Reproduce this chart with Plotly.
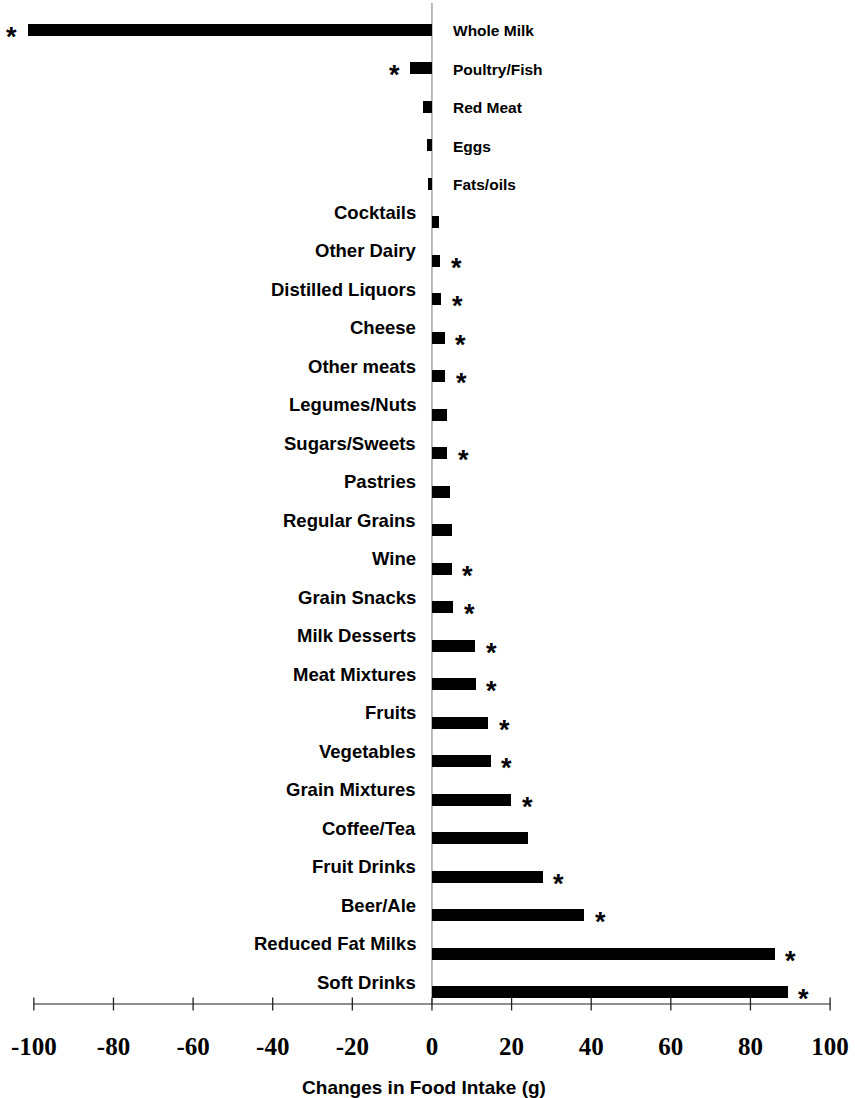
import plotly.graph_objects as go

# Food groups, listed top to bottom
categories = [
    "Whole Milk", "Poultry/Fish", "Red Meat", "Eggs", "Fats/oils",
    "Cocktails", "Other Dairy", "Distilled Liquors", "Cheese", "Other meats",
    "Legumes/Nuts", "Sugars/Sweets", "Pastries", "Regular Grains", "Wine",
    "Grain Snacks", "Milk Desserts", "Meat Mixtures", "Fruits", "Vegetables",
    "Grain Mixtures", "Coffee/Tea", "Fruit Drinks", "Beer/Ale",
    "Reduced Fat Milks", "Soft Drinks",
]

# Change in intake (g)
changes = [
    -101.5, -5.4, -2.3, -1.3, -1.1,
    1.7, 2.1, 2.3, 3.2, 3.3,
    3.8, 3.8, 4.6, 5.0, 5.0,
    5.3, 10.9, 11.0, 14.2, 14.8,
    19.9, 24.1, 27.8, 38.3,
    86.1, 89.4,
]

# Statistically significant changes are flagged with an asterisk
significant = [
    True, True, False, False, False,
    False, True, True, True, True,
    False, True, False, False, True,
    True, True, True, True, True,
    True, False, True, True,
    True, True,
]

tick_values = [-100, -80, -60, -40, -20, 0, 20, 40, 60, 80, 100]
tick_labels = ["-100", "-80", "-60", "-40", "-20", "0", "20", "40", "60", "80", "100"]

SANS = "Liberation Sans, Arial, sans-serif"
SERIF = "Liberation Serif, Times New Roman, serif"

fig = go.Figure(
    go.Bar(
        x=changes,
        y=categories,
        orientation="h",
        width=0.31,
        marker=dict(color="black", line=dict(width=0)),
        hoverinfo="x+y",
    )
)

annotations = []
for name, val, sig in zip(categories, changes, significant):
    if val < 0:
        # labels of decreases sit right of the zero line
        annotations.append(dict(
            x=0, y=name, xref="x", yref="y", text=name, showarrow=False,
            xanchor="left", yanchor="middle", xshift=19, yshift=-1,
            font=dict(family=SANS, size=15.5, color="black", weight="bold"),
        ))
    else:
        # labels of increases sit left of the zero line, a little above the bar
        annotations.append(dict(
            x=0, y=name, xref="x", yref="y", text=name, showarrow=False,
            xanchor="right", yanchor="middle", xshift=-14, yshift=10,
            font=dict(family=SANS, size=18.5, color="black", weight="bold"),
        ))
    if sig:
        annotations.append(dict(
            x=val, y=name, xref="x", yref="y", text="*", showarrow=False,
            xanchor="center", yanchor="middle",
            xshift=16 if val > 0 else -16, yshift=-7,
            font=dict(family=SANS, size=27, color="black", weight="bold"),
        ))

shapes = [
    # zero reference line
    dict(type="line", xref="x", yref="paper", x0=0, x1=0, y0=0, y1=1,
         line=dict(color="#7a7a7a", width=1), layer="below"),
    # horizontal axis line
    dict(type="line", xref="x", yref="paper",
         x0=min(tick_values), x1=max(tick_values), y0=0, y1=0,
         line=dict(color="#6a6a6a", width=1.3)),
]
for tv in tick_values:
    shapes.append(dict(type="line", xref="x", yref="paper", x0=tv, x1=tv,
                       y0=-0.0065, y1=0.0065,
                       line=dict(color="#222222", width=1.3)))

fig.update_layout(
    width=855,
    height=1098,
    margin=dict(l=2, r=9, t=3, b=94, autoexpand=False),
    paper_bgcolor="white",
    plot_bgcolor="white",
    showlegend=False,
    bargap=0,
    annotations=annotations,
    shapes=shapes,
    xaxis=dict(
        range=[-108, 104],
        tickmode="array",
        tickvals=tick_values,
        ticktext=tick_labels,
        ticks="",
        showline=False,
        showgrid=False,
        zeroline=False,
        ticklabelstandoff=25,
        tickfont=dict(family=SERIF, size=25, color="black", weight="bold"),
        title=dict(
            text="Changes in Food Intake (g)",
            font=dict(family=SANS, size=19, color="black", weight="bold"),
            standoff=22,
        ),
        automargin=False,
    ),
    yaxis=dict(
        type="category",
        categoryorder="array",
        categoryarray=categories,
        range=[25.31, -0.7],
        showticklabels=False,
        ticks="",
        showline=False,
        showgrid=False,
        zeroline=False,
        automargin=False,
    ),
)

fig.write_html("out.html")
